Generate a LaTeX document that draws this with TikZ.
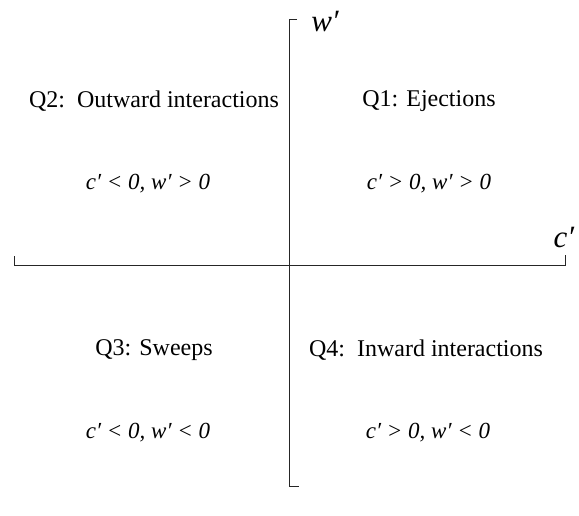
\documentclass[tikz,border=0pt]{standalone}
\usepackage{fontspec}
\setmainfont{Liberation Serif}
\begin{document}
\begin{tikzpicture}[x=1pt,y=-1pt,
  axis/.style={line width=0.9pt,draw=black!85},
  lbl/.style={font=\fontsize{24}{28}\selectfont,inner sep=0pt},
  cond/.style={font=\fontsize{23}{27}\selectfont\itshape,inner sep=0pt},
  axlbl/.style={font=\fontsize{31}{35}\selectfont\itshape,inner sep=0pt}]
\useasboundingbox (0,0) rectangle (579,515);
\coordinate (vt) at (289,19);
\coordinate (vtt) at (297,19);
\coordinate (vb) at (289,486);
\coordinate (vbb) at (299,486);
\coordinate (hl) at (14,265);
\coordinate (hlt) at (14,256);
\coordinate (hr) at (565,265);
\coordinate (hrt) at (565,255);
\draw[axis] (vtt) -- (vt) -- (vb) -- (vbb);
\draw[axis] (hlt) -- (hl) -- (hr) -- (hrt);
\node[axlbl] (w) at (325,21) {w′};
\node[axlbl] (c) at (564,237) {c′};
\node[lbl] (q2) at (154,101) {Q2:\, Outward interactions};
\node[lbl] (q1) at (429,101) {Q1: Ejections};
\node[cond] (c2) at (148,184) {c′ < 0, w′ > 0};
\node[cond] (c1) at (429,184) {c′ > 0, w′ > 0};
\node[lbl] (q3) at (154,350) {Q3: Sweeps};
\node[lbl] (q4) at (426,350) {Q4:\, Inward interactions};
\node[cond] (c3) at (148,433) {c′ < 0, w′ < 0};
\node[cond] (c4) at (428,433) {c′ > 0, w′ < 0};
\end{tikzpicture}
\end{document}
